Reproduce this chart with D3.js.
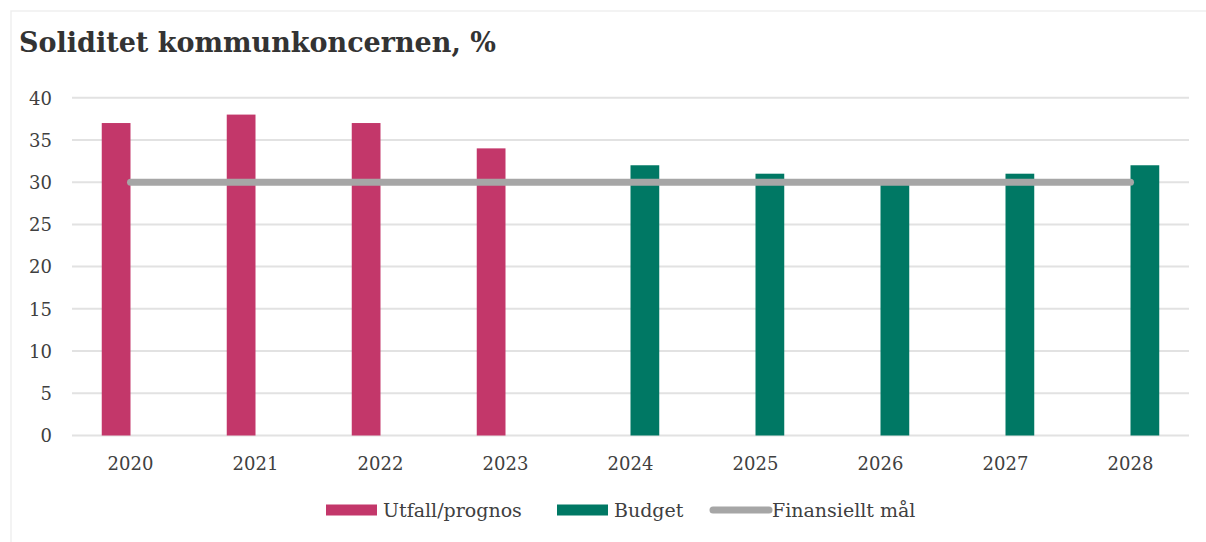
<!DOCTYPE html>
<html lang="sv">
<head>
<meta charset="UTF-8" />
<title>Soliditet kommunkoncernen</title>
<script src="https://d3js.org/d3.v7.min.js"></script>
<style>
    body { margin: 0; background: #fff; }
    svg { display: block; font-family: "DejaVu Serif", "Liberation Serif", serif; }
    .title { font-weight: bold; font-size: 27px; fill: #333; }
    .axis text { font-family: "DejaVu Serif", "Liberation Serif", serif; font-size: 18px; fill: #404040; }
    .axis path { display: none; }
    .grid line { stroke: #e2e2e2; stroke-width: 2; }
    .legend text { font-size: 19px; fill: #404040; }
</style>
</head>
<body>
<div id="chart"></div>
<script>
    const width = 1206, height = 542;

    // data
    const years = ["2020", "2021", "2022", "2023", "2024", "2025", "2026", "2027", "2028"];
    const utfall = [37, 38, 37, 34, null, null, null, null, null];
    const budget = [null, null, null, null, 32, 31, 30, 31, 32];
    const mal = [30, 30, 30, 30, 30, 30, 30, 30, 30];
    const yTicks = [0, 5, 10, 15, 20, 25, 30, 35, 40];

    const seriesNames = ["Utfall/prognos", "Budget"];
    const colors = { "Utfall/prognos": "#c3376a", "Budget": "#007864", "Finansiellt mål": "#a6a6a6" };

    const svg = d3.select("#chart").append("svg")
        .attr("width", width)
        .attr("height", height);

    // ram
    svg.append("path")
        .attr("d", "M11,542 V11 H1206")
        .attr("fill", "none")
        .attr("stroke", "#efefef")
        .attr("stroke-width", 1.5);

    svg.append("text")
        .attr("class", "title")
        .attr("x", 19)
        .attr("y", 52)
        .text("Soliditet kommunkoncernen, %");

    const plotLeft = 72, plotRight = 1189;

    const x = d3.scaleBand()
        .domain(years)
        .range([68, 1193])
        .paddingInner(0.54)
        .paddingOuter(0.27);

    const xInner = d3.scaleBand()
        .domain(seriesNames)
        .range([0, x.bandwidth()]);

    const y = d3.scaleLinear()
        .domain([0, 40])
        .range([435.5, 97.7]);

    // stödlinjer
    svg.append("g")
        .attr("class", "grid")
        .selectAll("line")
        .data(yTicks)
        .join("line")
        .attr("x1", plotLeft)
        .attr("x2", plotRight)
        .attr("y1", d => y(d))
        .attr("y2", d => y(d));

    svg.append("g")
        .attr("class", "axis")
        .attr("transform", `translate(${plotLeft - 20},0)`)
        .call(d3.axisLeft(y).tickValues(yTicks).tickSize(0).tickPadding(0))
        .selectAll("text")
        .attr("dy", "0.35em");

    svg.append("g")
        .attr("class", "axis")
        .attr("transform", `translate(0,${y(0) + 18})`)
        .call(d3.axisBottom(x).tickSize(0).tickPadding(0))
        .selectAll("text")
        .attr("dy", "0.9em");

    // staplar
    const rows = years.map((yr, i) => ({ year: yr, values: [utfall[i], budget[i]] }));

    svg.append("g")
        .selectAll("g")
        .data(rows)
        .join("g")
        .attr("transform", d => `translate(${x(d.year)},0)`)
        .selectAll("rect")
        .data(d => seriesNames.map((s, j) => ({ key: s, value: d.values[j] })).filter(v => v.value != null))
        .join("rect")
        .attr("x", d => xInner(d.key))
        .attr("width", xInner.bandwidth())
        .attr("y", d => y(d.value))
        .attr("height", d => y(0) - y(d.value))
        .attr("fill", d => colors[d.key]);

    // finansiellt mål
    const line = d3.line()
        .x((d, i) => x(years[i]) + x.bandwidth() / 2)
        .y(d => y(d));

    svg.append("path")
        .datum(mal)
        .attr("d", line)
        .attr("fill", "none")
        .attr("stroke", colors["Finansiellt mål"])
        .attr("stroke-width", 7)
        .attr("stroke-linecap", "round");

    // legend
    const legend = svg.append("g").attr("class", "legend");
    const legendY = 510;

    legend.append("rect")
        .attr("x", 326).attr("y", legendY - 5.5)
        .attr("width", 51).attr("height", 11)
        .attr("fill", colors["Utfall/prognos"]);
    legend.append("text")
        .attr("x", 383).attr("y", legendY).attr("dy", "0.35em")
        .text("Utfall/prognos");

    legend.append("rect")
        .attr("x", 557).attr("y", legendY - 5.5)
        .attr("width", 51).attr("height", 11)
        .attr("fill", colors["Budget"]);
    legend.append("text")
        .attr("x", 614).attr("y", legendY).attr("dy", "0.35em")
        .text("Budget");

    legend.append("line")
        .attr("x1", 713).attr("x2", 769)
        .attr("y1", legendY).attr("y2", legendY)
        .attr("stroke", colors["Finansiellt mål"])
        .attr("stroke-width", 7)
        .attr("stroke-linecap", "round");
    legend.append("text")
        .attr("x", 772).attr("y", legendY).attr("dy", "0.35em")
        .text("Finansiellt mål");
</script>
</body>
</html>
